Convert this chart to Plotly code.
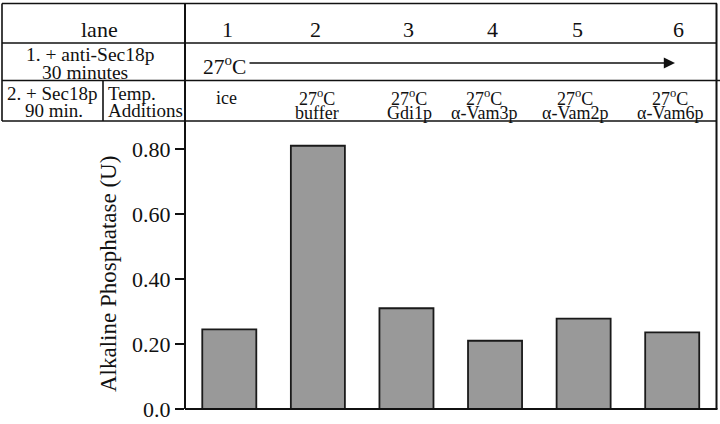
import plotly.graph_objects as go

# ---------------- data ----------------
lanes = ["1", "2", "3", "4", "5", "6"]
phosphatase = [0.245, 0.810, 0.310, 0.210, 0.278, 0.236]
temps = ["", "27<sup>o</sup>C", "27<sup>o</sup>C", "27<sup>o</sup>C", "27<sup>o</sup>C", "27<sup>o</sup>C"]
additions = ["ice", "buffer", "Gdi1p", "α-Vam3p", "α-Vam2p", "α-Vam6p"]
tick_vals = [0.0, 0.2, 0.4, 0.6, 0.8]
tick_text = ["0.0", "0.20", "0.40", "0.60", "0.80"]
y_title = "Alkaline Phosphatase (U)"

# ---------------- layout helpers (pixel -> paper) ----------------
W, H = 720, 424
FONT = "Liberation Serif"
INK = "#111111"


def PX(x):
    return x / W


def PY(y):
    return 1 - y / H


# plot area in pixels
X0, X1 = 185, 716.5
Y_TOP, Y_BOT = 121, 409
PX_PER_UNIT = 325.0
y_max = (Y_BOT - Y_TOP) / PX_PER_UNIT

fig = go.Figure()
fig.add_trace(go.Bar(
    x=lanes, y=phosphatase,
    marker=dict(color="#999999", line=dict(color="#1a1a1a", width=1.8)),
    width=0.61,
    hoverinfo="skip",
))

shapes = []


def hline(y, xa, xb, w=1.6):
    shapes.append(dict(type="line", xref="paper", yref="paper",
                       x0=PX(xa), x1=PX(xb), y0=PY(y), y1=PY(y),
                       line=dict(color=INK, width=w)))


def vline(x, ya, yb, w=1.6):
    shapes.append(dict(type="line", xref="paper", yref="paper",
                       x0=PX(x), x1=PX(x), y0=PY(ya), y1=PY(yb),
                       line=dict(color=INK, width=w)))


# table grid
hline(3.5, 2, 717)
hline(43, 2, 717)
hline(80.5, 2, 720)
hline(121, 2, 717)
vline(2, 3.5, 121)
vline(103, 80.5, 121)
vline(X0, 3.5, Y_BOT, 2)
vline(X1, 3.5, Y_BOT, 2)
hline(Y_BOT, X0, X1 + 1, 2)

annotations = []


def text(t, x, baseline, size, anchor="center"):
    annotations.append(dict(
        text=t, x=PX(x), y=PY(baseline - 0.34 * size), xref="paper", yref="paper",
        xanchor=anchor, yanchor="middle", showarrow=False,
        font=dict(family=FONT, size=size, color=INK)))


# row 1
text("lane", 99, 37, 22)
lane_x = [227, 315, 408, 492, 577, 678]
for lab, x in zip(lanes, lane_x):
    text(lab, x, 37, 22)

# row 2
text("1. + anti-Sec18p", 90, 61, 19.5)
text("30 minutes", 85, 79, 19.5)
text("27<sup>o</sup>C", 201, 73, 21.5, anchor="left")
annotations.append(dict(
    x=PX(675), y=PY(63), xref="paper", yref="paper", text="",
    showarrow=True, ax=-(675 - 248), ay=0, axref="pixel", ayref="pixel",
    arrowhead=2, arrowsize=1.6, arrowwidth=1.4, arrowcolor=INK))

# row 3
text("2. + Sec18p", 52, 100, 19)
text("90 min.", 54, 117, 19)
text("Temp.", 132, 100, 19)
text("Additions", 145, 117, 19)
row3_x = [226, 317, 409, 484, 575, 670]
for t, a, x in zip(temps, additions, row3_x):
    if t:
        text(t, x, 104, 18)
        text(a, x, 119, 18)
    else:
        text(a, x, 104, 18)

# y-axis title
annotations.append(dict(
    text=y_title, x=PX(108), y=PY(274), xref="paper", yref="paper",
    xanchor="center", yanchor="middle", showarrow=False, textangle=-90,
    font=dict(family=FONT, size=23, color=INK)))

fig.update_layout(
    width=W, height=H,
    margin=dict(l=0, r=0, t=0, b=0),
    paper_bgcolor="white", plot_bgcolor="white",
    showlegend=False,
    bargap=0.39,
    xaxis=dict(domain=[PX(X0), PX(X1)], range=[-0.5, 5.5], type="category",
               showticklabels=False, ticks="", showgrid=False, zeroline=False,
               showline=False, fixedrange=True),
    yaxis=dict(domain=[PY(Y_BOT), PY(Y_TOP)], range=[0, y_max],
               tickvals=tick_vals, ticktext=tick_text,
               ticks="outside", ticklen=9, tickwidth=2, tickcolor=INK,
               tickfont=dict(family=FONT, size=22, color=INK),
               showgrid=False, zeroline=False, showline=False,
               automargin=False, fixedrange=True),
    shapes=shapes,
    annotations=annotations,
)

fig.write_html("out.html", config={"displayModeBar": False},
               post_script="document.body.style.margin='0';")
